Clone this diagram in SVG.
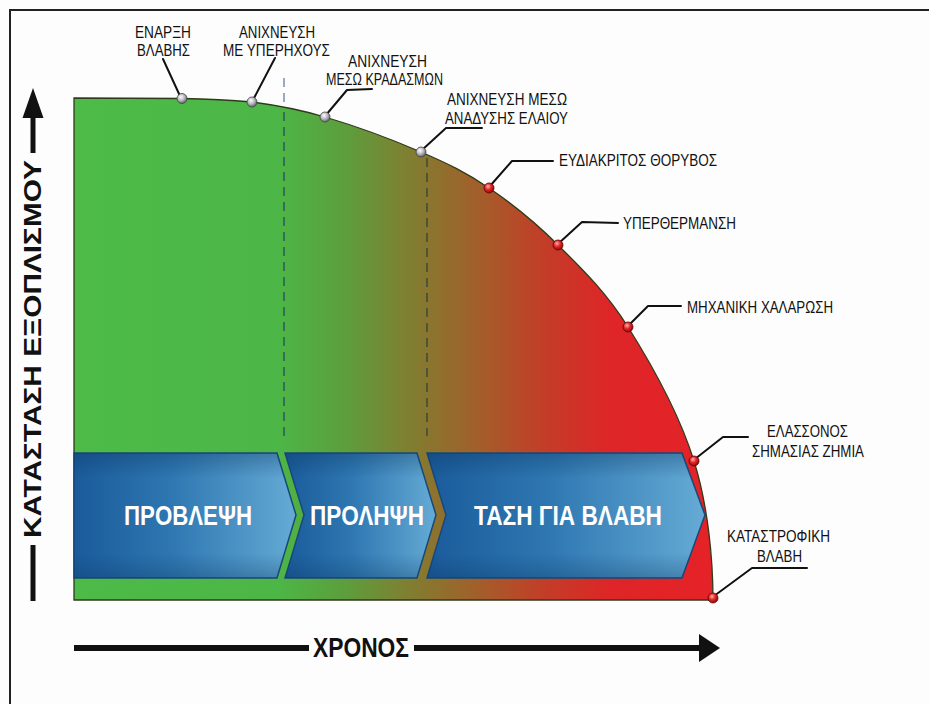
<svg xmlns="http://www.w3.org/2000/svg" width="929" height="704" viewBox="0 0 929 704">
<defs>
<linearGradient id="gShape" gradientUnits="userSpaceOnUse" x1="74" y1="0" x2="713" y2="0">
<stop offset="0" stop-color="#4dbb48"/>
<stop offset="0.32" stop-color="#4cb646"/>
<stop offset="0.42" stop-color="#5c9f3d"/>
<stop offset="0.54" stop-color="#857a2f"/>
<stop offset="0.64" stop-color="#a55c2a"/>
<stop offset="0.74" stop-color="#c43c28"/>
<stop offset="0.84" stop-color="#de2527"/>
<stop offset="1" stop-color="#e52228"/>
</linearGradient>
<linearGradient id="gChev" x1="0" y1="0" x2="1" y2="0">
<stop offset="0" stop-color="#1a5b9b"/>
<stop offset="0.45" stop-color="#2f78b2"/>
<stop offset="1" stop-color="#65abd5"/>
</linearGradient>
<linearGradient id="gShade" x1="0" y1="0" x2="0" y2="1">
<stop offset="0" stop-color="#0b3560" stop-opacity="0.35"/>
<stop offset="0.2" stop-color="#0b3560" stop-opacity="0"/>
<stop offset="0.8" stop-color="#0b3560" stop-opacity="0"/>
<stop offset="1" stop-color="#0b3560" stop-opacity="0.3"/>
</linearGradient>
<radialGradient id="gDotGray" cx="0.4" cy="0.35" r="0.7">
<stop offset="0" stop-color="#ffffff"/>
<stop offset="0.5" stop-color="#b8b8c0"/>
<stop offset="1" stop-color="#55555c"/>
</radialGradient>
<radialGradient id="gDotRed" cx="0.4" cy="0.35" r="0.7">
<stop offset="0" stop-color="#ffb0b0"/>
<stop offset="0.45" stop-color="#e02a2a"/>
<stop offset="1" stop-color="#8a0000"/>
</radialGradient>
</defs>
<style>
.lbl{font-family:"Liberation Sans",Arial,sans-serif;font-size:16px;fill:#111}
.chevt{font-family:"Liberation Sans",Arial,sans-serif;font-size:27px;font-weight:bold;fill:#ffffff}
.axt{font-family:"Liberation Sans",Arial,sans-serif;font-weight:bold;fill:#111}
.lead{fill:none;stroke:#111;stroke-width:2;stroke-linejoin:round;stroke-linecap:round}
.chev{fill:url(#gChev);stroke:#17497a;stroke-width:1.5}
.shade{fill:url(#gShade)}
.dg{fill:url(#gDotGray);stroke:#444;stroke-width:0.8}
.dr{fill:url(#gDotRed);stroke:#600;stroke-width:0.8}
.dash{stroke-width:1.6;stroke-dasharray:9 6;fill:none}
</style>
<rect x="0" y="0" width="929" height="704" fill="#fdfdfd"/>
<rect x="10" y="10" width="1000" height="1000" fill="none" stroke="#222" stroke-width="2"/>

<g id="equipment-state-area">
<path d="M74,98 L182,98.5 C211.7,99.2 228,100 252,102 C275.8,105.1 296.8,108.7 325,117 C353.2,125.3 393.7,140.2 421,152 C448.3,163.8 466.2,172.5 489,188 C511.8,203.5 534.8,221.8 558,245 C581.2,268.2 605.3,291 628,327 C650.7,363 679.8,415.5 694,461 C708.2,506.5 713,560 713,600 L74,600 Z" fill="url(#gShape)" stroke="#2f3a1c" stroke-width="1.3"/>
<line class="dash" x1="284" y1="78" x2="284" y2="106" stroke="#7e96b8"/>
<line class="dash" x1="284" y1="112" x2="284" y2="436" stroke="#1e4d5e" stroke-opacity="0.8"/>
<line class="dash" x1="427" y1="158" x2="427" y2="436" stroke="#2a3d40" stroke-opacity="0.75"/>
</g>

<g id="phase-prediction">
<path class="chev" d="M74,453 L277,453 L296,515 L277,578 L74,578 Z"/>
<path class="shade" d="M74,453 L277,453 L296,515 L277,578 L74,578 Z"/>
<text class="chevt" x="124" y="525" textLength="128" lengthAdjust="spacingAndGlyphs">ΠΡΟΒΛΕΨΗ</text>
</g>
<g id="phase-prevention">
<path class="chev" d="M285,453 L417,453 L436,515 L417,578 L285,578 L304,515 Z"/>
<path class="shade" d="M285,453 L417,453 L436,515 L417,578 L285,578 L304,515 Z"/>
<text class="chevt" x="310" y="525" textLength="114" lengthAdjust="spacingAndGlyphs">ΠΡΟΛΗΨΗ</text>
</g>
<g id="phase-failure-trend">
<path class="chev" d="M427,453 L682,453 L705,515 L682,578 L427,578 L446,515 Z"/>
<path class="shade" d="M427,453 L682,453 L705,515 L682,578 L427,578 L446,515 Z"/>
<text class="chevt" x="474" y="525" textLength="188" lengthAdjust="spacingAndGlyphs">ΤΑΣΗ ΓΙΑ ΒΛΑΒΗ</text>
</g>

<g id="connectors">
<polyline class="lead" points="163,59 180,96"/>
<polyline class="lead" points="275,58 253,100"/>
<polyline class="lead" points="372,89 347,90 326,115"/>
<polyline class="lead" points="482,128 446,128 422,150"/>
<polyline class="lead" points="553,161 512,161 490,186"/>
<polyline class="lead" points="618,223 582,222 559,243"/>
<polyline class="lead" points="681,306 648,306 629,325"/>
<polyline class="lead" points="748,437 723,437 695,459"/>
<polyline class="lead" points="807,568 752,568 714,596"/>
</g>

<g id="fault-onset">
<circle class="dg" cx="182" cy="98.5" r="5"/>
<text class="lbl" x="135" y="38" textLength="56" lengthAdjust="spacingAndGlyphs">ΕΝΑΡΞΗ</text>
<text class="lbl" x="137" y="56" textLength="53" lengthAdjust="spacingAndGlyphs">ΒΛΑΒΗΣ</text>
</g>
<g id="ultrasound-detection">
<circle class="dg" cx="252" cy="102" r="5"/>
<text class="lbl" x="239" y="38" textLength="76" lengthAdjust="spacingAndGlyphs">ΑΝΙΧΝΕΥΣΗ</text>
<text class="lbl" x="223" y="56" textLength="107" lengthAdjust="spacingAndGlyphs">ΜΕ ΥΠΕΡΗΧΟΥΣ</text>
</g>
<g id="vibration-detection">
<circle class="dg" cx="325" cy="117" r="5"/>
<text class="lbl" x="348" y="67" textLength="79" lengthAdjust="spacingAndGlyphs">ΑΝΙΧΝΕΥΣΗ</text>
<text class="lbl" x="326" y="85" textLength="117" lengthAdjust="spacingAndGlyphs">ΜΕΣΩ ΚΡΑΔΑΣΜΩΝ</text>
</g>
<g id="oil-detection">
<circle class="dg" cx="421" cy="152" r="5"/>
<text class="lbl" x="447" y="105" textLength="120" lengthAdjust="spacingAndGlyphs">ΑΝΙΧΝΕΥΣΗ ΜΕΣΩ</text>
<text class="lbl" x="445" y="124" textLength="123" lengthAdjust="spacingAndGlyphs">ΑΝΑΔΥΣΗΣ ΕΛΑΙΟΥ</text>
</g>
<g id="audible-noise">
<circle class="dr" cx="489" cy="188" r="5"/>
<text class="lbl" x="559" y="166" textLength="158" lengthAdjust="spacingAndGlyphs">ΕΥΔΙΑΚΡΙΤΟΣ ΘΟΡΥΒΟΣ</text>
</g>
<g id="overheating">
<circle class="dr" cx="558" cy="245" r="5"/>
<text class="lbl" x="623" y="229" textLength="113" lengthAdjust="spacingAndGlyphs">ΥΠΕΡΘΕΡΜΑΝΣΗ</text>
</g>
<g id="mechanical-looseness">
<circle class="dr" cx="628" cy="327" r="5"/>
<text class="lbl" x="687" y="313" textLength="146" lengthAdjust="spacingAndGlyphs">ΜΗΧΑΝΙΚΗ ΧΑΛΑΡΩΣΗ</text>
</g>
<g id="minor-damage">
<circle class="dr" cx="694" cy="461" r="5"/>
<text class="lbl" x="767" y="437" textLength="81" lengthAdjust="spacingAndGlyphs">ΕΛΑΣΣΟΝΟΣ</text>
<text class="lbl" x="752" y="457" textLength="112" lengthAdjust="spacingAndGlyphs">ΣΗΜΑΣΙΑΣ ΖΗΜΙΑ</text>
</g>
<g id="catastrophic-failure">
<circle class="dr" cx="713" cy="598" r="5"/>
<text class="lbl" x="727" y="542" textLength="103" lengthAdjust="spacingAndGlyphs">ΚΑΤΑΣΤΡΟΦΙΚΗ</text>
<text class="lbl" x="757" y="562" textLength="45" lengthAdjust="spacingAndGlyphs">ΒΛΑΒΗ</text>
</g>

<g id="y-axis">
<polygon points="33,88 22.5,118 43.5,118" fill="#111"/>
<line x1="33" y1="116" x2="33" y2="153" stroke="#111" stroke-width="5"/>
<line x1="33" y1="545" x2="33" y2="601" stroke="#111" stroke-width="5"/>
<text class="axt" font-size="23" transform="translate(41,349) rotate(-90)" text-anchor="middle" textLength="378" lengthAdjust="spacingAndGlyphs">ΚΑΤΑΣΤΑΣΗ ΕΞΟΠΛΙΣΜΟΥ</text>
</g>
<g id="x-axis">
<line x1="74" y1="648" x2="309" y2="648" stroke="#111" stroke-width="6"/>
<line x1="414" y1="648" x2="702" y2="648" stroke="#111" stroke-width="6"/>
<polygon points="720,648 699,634 699,662" fill="#111"/>
<text class="axt" font-size="27" x="313" y="657" textLength="96" lengthAdjust="spacingAndGlyphs">ΧΡΟΝΟΣ</text>
</g>
</svg>
